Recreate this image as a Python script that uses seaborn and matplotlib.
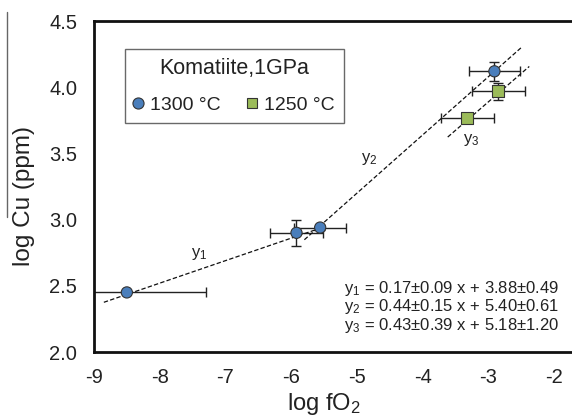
import matplotlib
matplotlib.use("Agg")
import matplotlib.pyplot as plt
from matplotlib.lines import Line2D
import numpy as np
import pandas as pd
import seaborn as sns

# Experimental runs: log fO2, log Cu (ppm) and their uncertainties
run_temp = ["1300 °C", "1300 °C", "1300 °C", "1300 °C", "1250 °C", "1250 °C"]
log_fo2 = [-8.50, -5.92, -5.56, -2.91, -2.85, -3.32]
log_cu = [2.45, 2.90, 2.94, 4.12, 3.97, 3.77]
fo2_err = [1.20, 0.40, 0.40, 0.39, 0.40, 0.40]
cu_err = [0.0, 0.10, 0.02, 0.07, 0.065, 0.0]

# Fitted regressions y = a x + b
fit_names = ["y$_1$", "y$_2$", "y$_3$"]
fit_slope = [0.17, 0.44, 0.43]
fit_slope_err = [0.09, 0.15, 0.39]
fit_icpt = [3.88, 5.40, 5.18]
fit_icpt_err = [0.49, 0.61, 1.20]
fit_xmin = [-8.85, -5.80, -3.62]
fit_xmax = [-5.60, -2.50, -2.38]
fit_label_x = [-7.40, -4.82, -3.27]
fit_label_y = [2.74, 3.46, 3.60]

x_ticks = [-9, -8, -7, -6, -5, -4, -3, -2]
y_ticks = [2.0, 2.5, 3.0, 3.5, 4.0, 4.5]

sns.set_theme(style="white")
plt.rcParams["font.family"] = ["Liberation Sans", "DejaVu Sans"]
plt.rcParams["mathtext.default"] = "regular"
plt.rcParams["axes.unicode_minus"] = False

df = pd.DataFrame({"T": run_temp, "fO2": log_fo2, "Cu": log_cu,
                   "xerr": fo2_err, "yerr": cu_err})

fig = plt.figure(figsize=(5.72, 4.2), dpi=100)
ax = fig.add_axes([0.1643, 0.1619, 0.8357, 0.7881])

# error bars
ax.errorbar(df["fO2"], df["Cu"], xerr=df["xerr"], yerr=df["yerr"],
            fmt="none", ecolor="#222222", elinewidth=1.0, capsize=3.5,
            capthick=1.0, zorder=2)

# regression lines
for a, b, x0, x1 in zip(fit_slope, fit_icpt, fit_xmin, fit_xmax):
    xs = np.array([x0, x1])
    ax.plot(xs, a * xs + b, color="#111111", lw=0.9, ls=(0, (3.5, 1.8)), zorder=3)

palette = {"1300 °C": "#4a7ebb", "1250 °C": "#9bbb59"}
markers = {"1300 °C": "o", "1250 °C": "s"}
sns.scatterplot(data=df[df["T"] == "1300 °C"], x="fO2", y="Cu", hue="T", style="T",
                palette=palette, markers=markers, s=65, edgecolor="#333333",
                linewidth=0.8, ax=ax, zorder=4, legend=False)
sns.scatterplot(data=df[df["T"] == "1250 °C"], x="fO2", y="Cu", hue="T", style="T",
                palette=palette, markers=markers, s=75, edgecolor="#333333",
                linewidth=0.8, ax=ax, zorder=4, legend=False)

for name, lx, ly in zip(fit_names, fit_label_x, fit_label_y):
    ax.text(lx, ly, name, fontsize=12, color="#222222", ha="center", va="center")

eq_lines = []
for name, a, ae, b, be in zip(fit_names, fit_slope, fit_slope_err, fit_icpt, fit_icpt_err):
    eq_lines.append(f"{name} = {a:.2f}±{ae:.2f} x + {b:.2f}±{be:.2f}")
for i, line in enumerate(eq_lines):
    ax.text(0.973, 0.193 - i * 0.056, line, transform=ax.transAxes,
            fontsize=12, color="#222222", ha="right", va="center")

handles = [
    Line2D([], [], marker="o", ls="none", markersize=8, markerfacecolor=palette["1300 °C"],
           markeredgecolor="#333333", markeredgewidth=0.8),
    Line2D([], [], marker="s", ls="none", markersize=7.5, markerfacecolor=palette["1250 °C"],
           markeredgecolor="#333333", markeredgewidth=0.8),
]
leg = ax.legend(handles, ["1300 °C", "1250 °C"], title="Komatiite,1GPa", ncol=2,
                loc="upper left", bbox_to_anchor=(0.065, 0.915), fontsize=14,
                title_fontsize=15.5, frameon=True, fancybox=False, handletextpad=0.44,
                columnspacing=1.4, handlelength=0.4, borderpad=0.45,
                labelspacing=0.9, borderaxespad=0)
leg.get_frame().set_edgecolor("#444444")
leg.get_frame().set_linewidth(1.0)
leg.get_title().set_color("#222222")
for t in leg.get_texts():
    t.set_color("#222222")

ax.set_xlim(-9, -1.73)
ax.set_ylim(2.0, 4.5)
ax.set_xticks(x_ticks)
ax.set_yticks(y_ticks)
ax.set_yticklabels([f"{v:.1f}" for v in y_ticks])
ax.tick_params(axis="both", direction="out", length=5, width=1.8, labelsize=14.5,
               color="#111111", labelcolor="#222222")
ax.tick_params(axis="x", pad=6.5)
ax.tick_params(axis="y", pad=7)
for side in ["left", "bottom", "top"]:
    ax.spines[side].set_linewidth(2.0)
    ax.spines[side].set_color("#111111")
ax.spines["right"].set_visible(False)

ax.set_xlabel("log fO$_2$", fontsize=17, color="#222222")
ax.set_ylabel("log Cu (ppm)", fontsize=17.5, color="#222222")
ax.xaxis.set_label_coords(0.48, -0.118)
ax.yaxis.set_label_coords(-0.124, 0.47)

# overbar above the ylabel
fig.add_artist(Line2D([7 / 572, 7 / 572], [1 - 12 / 420, 1 - 217 / 420],
                      transform=fig.transFigure, color="#666666", lw=1.0))

fig.savefig("out.png", dpi=100)
